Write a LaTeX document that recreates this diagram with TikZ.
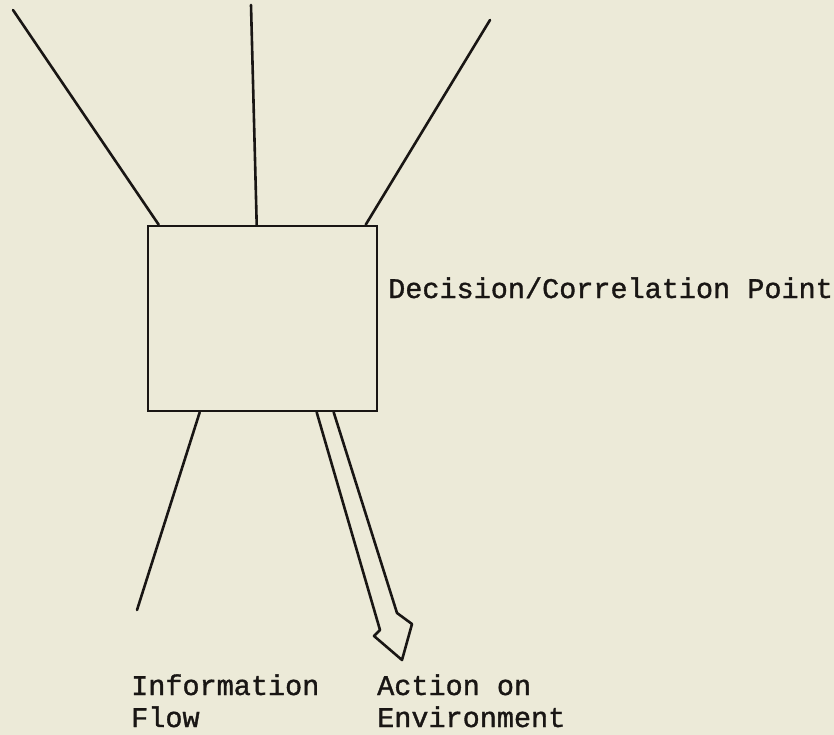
\documentclass[tikz,border=0pt]{standalone}
\usepackage{fontspec}
\newfontfamily\cour[FakeBold=1.2]{Liberation Mono}
\usetikzlibrary{calc}
\definecolor{paper}{RGB}{236,234,216}
\definecolor{ink}{RGB}{25,22,20}
\begin{document}
\begin{tikzpicture}[x=1pt,y=-1pt,
  line/.style={draw=ink,line width=2.6pt,line cap=round},
  lbl/.style={anchor=base west,inner sep=0pt,text=ink,font=\cour\fontsize{28.5}{32}\selectfont}]
\fill[paper] (0,0) rectangle (834,735);
\useasboundingbox (0,0) rectangle (834,735);
\node[draw=ink,line width=2.6pt,inner sep=0pt,minimum width=229pt,minimum height=185pt] (box) at (262.5,318.5) {};
\coordinate (tl) at (13,10);
\coordinate (tm) at (251,5);
\coordinate (tr) at (490,20);
\coordinate (bl) at (137,610);
\draw[line] (tl) -- ($(box.north west)+(12,0)$);
\draw[line] (tm) -- ($(box.north west)+(110,0)$);
\draw[line] (tr) -- ($(box.north west)+(219,0)$);
\draw[line] ($(box.south west)+(53,0)$) -- (bl);
\draw[line,line join=round] ($(box.south west)+(170,0)$) -- (380,630) -- (374,636) -- (402,660) -- (412,624) -- (397,613) -- ($(box.south west)+(187,0)$);
\node[lbl] (dec) at (388,298) {Decision/Correlation Point};
\node[lbl] (info1) at (131,695) {Information};
\node[lbl] (info2) at (131,727) {Flow};
\node[lbl] (act1) at (377,695) {Action on};
\node[lbl] (act2) at (377,727) {Environment};
\end{tikzpicture}
\end{document}
